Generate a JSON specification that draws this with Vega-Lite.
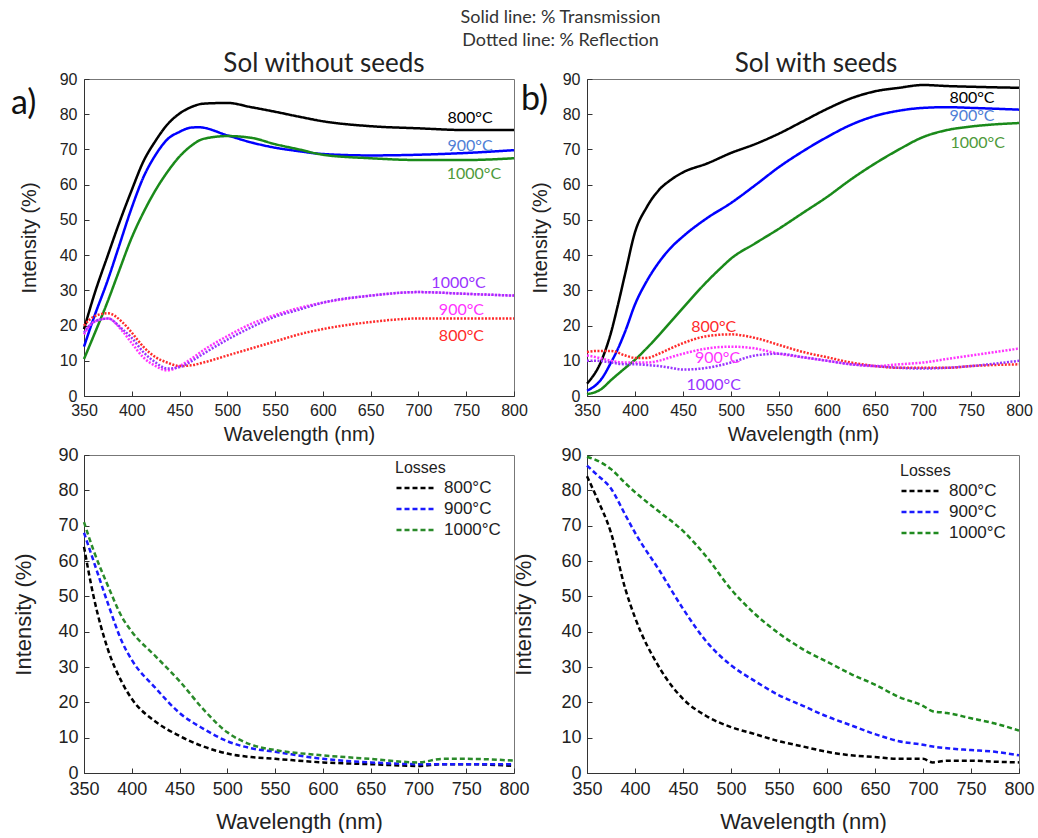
{
"$schema": "https://vega.github.io/schema/vega-lite/v6.json",
"padding": {"left": 10, "top": 8, "right": 0, "bottom": 0},
"background": "white",
"title": {"text": ["Solid line: % Transmission", "Dotted line: % Reflection"], "anchor": "middle", "font": "Lato", "fontSize": 18, "fontWeight": "normal", "color": "#333", "lineHeight": 23, "dx": 38, "offset": 1},
"config": {
  "view": {"stroke": "#777", "strokeWidth": 1},
  "line": {"interpolate": "monotone"},
  "axis": {"grid": false, "labelFont": "Liberation Sans", "titleFont": "Liberation Sans", "titleFontWeight": "normal", "labelColor": "#222", "titleColor": "#222", "domainColor": "#333", "tickColor": "#333", "tickSize": -5, "labelFlush": false, "labelOverlap": false}
},
"columns": 2,
"bounds": "flush",
"spacing": {"row": 59, "column": 73},
"resolve": {"scale": {"stroke": "independent", "fill": "independent", "strokeDash": "independent"}, "legend": {"stroke": "independent"}},
"concat": [
  {"width": 430, "height": 317,
   "title": {"text": "Sol without seeds", "font": "Lato", "fontSize": 26, "fontWeight": "normal", "color": "#222", "dx": 25, "offset": -6},
   "encoding": {
    "x": {"field": "nm", "type": "quantitative", "scale": {"domain": [350, 800], "nice": false}, "axis": {"values": [350,400,450,500,550,600,650,700,750,800], "title": "Wavelength (nm)", "labelFontSize": 16, "titleFontSize": 20, "labelPadding": 11, "titlePadding": 6}},
    "y": {"field": "pct", "type": "quantitative", "scale": {"domain": [0, 90], "nice": false}, "axis": {"values": [0,10,20,30,40,50,60,70,80,90], "title": "Intensity (%)", "labelFontSize": 16, "titleFontSize": 20, "labelPadding": 12, "titlePadding": 20}}
   },
   "layer": [
    {"data": {"name": "topA"}, "mark": {"type": "line", "strokeWidth": 2.5},
     "encoding": {
      "stroke": {"field": "series", "type": "nominal", "scale": {"domain": ["T800","T900","T1000","R800","R900","R1000"], "range": ["#000000","#0000ff","#1a8a1a","#ff2a2a","#ff33ff","#9933ff"]}, "legend": null},
      "strokeDash": {"field": "type", "type": "nominal", "scale": {"domain": ["T","R"], "range": [[1,0],[2,1.5]]}, "legend": null}
     }},
    {"data": {"name": "labelsA"}, "mark": {"type": "text", "font": "Lato", "fontSize": 16},
     "encoding": {
      "text": {"field": "label"},
      "fill": {"field": "series", "type": "nominal", "scale": {"domain": ["T800","T900","T1000","R800","R900","R1000"], "range": ["#000000","#4f7fd6","#4e9a3a","#ff2a2a","#ff33ff","#9933ff"]}, "legend": null}
     }},
    {"data": {"values": [{"label": "a)", "nm": 350, "pct": 83}]}, "mark": {"type": "text", "font": "Lato", "fontSize": 34, "align": "left", "dx": -73, "color": "#111"},
     "encoding": {"text": {"field": "label"}}}
   ]},
  {"width": 432, "height": 317,
   "title": {"text": "Sol with seeds", "font": "Lato", "fontSize": 26, "fontWeight": "normal", "color": "#222", "dx": 13, "offset": -6},
   "encoding": {
    "x": {"field": "nm", "type": "quantitative", "scale": {"domain": [350, 800], "nice": false}, "axis": {"values": [350,400,450,500,550,600,650,700,750,800], "title": "Wavelength (nm)", "labelFontSize": 16, "titleFontSize": 20, "labelPadding": 11, "titlePadding": 6}},
    "y": {"field": "pct", "type": "quantitative", "scale": {"domain": [0, 90], "nice": false}, "axis": {"values": [0,10,20,30,40,50,60,70,80,90], "title": "Intensity (%)", "labelFontSize": 16, "titleFontSize": 20, "labelPadding": 12, "titlePadding": 12}}
   },
   "layer": [
    {"data": {"name": "topB"}, "mark": {"type": "line", "strokeWidth": 2.5},
     "encoding": {
      "stroke": {"field": "series", "type": "nominal", "scale": {"domain": ["T800","T900","T1000","R800","R900","R1000"], "range": ["#000000","#0000ff","#1a8a1a","#ff2a2a","#ff33ff","#9933ff"]}, "legend": null},
      "strokeDash": {"field": "type", "type": "nominal", "scale": {"domain": ["T","R"], "range": [[1,0],[2,1.5]]}, "legend": null}
     }},
    {"data": {"name": "labelsB"}, "mark": {"type": "text", "font": "Lato", "fontSize": 16},
     "encoding": {
      "text": {"field": "label"},
      "fill": {"field": "series", "type": "nominal", "scale": {"domain": ["T800","T900","T1000","R800","R900","R1000"], "range": ["#000000","#4f7fd6","#4e9a3a","#ff2a2a","#ff33ff","#9933ff"]}, "legend": null}
     }},
    {"data": {"values": [{"label": "b)", "nm": 350, "pct": 84}]}, "mark": {"type": "text", "font": "Lato", "fontSize": 34, "align": "left", "dx": -66, "color": "#111"},
     "encoding": {"text": {"field": "label"}}}
   ]},
  {"width": 430, "height": 318,
   "data": {"name": "lossA"},
   "mark": {"type": "line", "strokeWidth": 2.5, "strokeDash": [5, 3]},
   "encoding": {
    "x": {"field": "nm", "type": "quantitative", "scale": {"domain": [350, 800], "nice": false}, "axis": {"values": [350,400,450,500,550,600,650,700,750,800], "title": "Wavelength (nm)", "labelFontSize": 18, "titleFontSize": 22, "titlePadding": 13, "labelPadding": 12}},
    "y": {"field": "pct", "type": "quantitative", "scale": {"domain": [0, 90], "nice": false}, "axis": {"values": [0,10,20,30,40,50,60,70,80,90], "title": "Intensity (%)", "labelFontSize": 18, "titleFontSize": 22, "labelPadding": 11, "titlePadding": 22}},
    "stroke": {"field": "series", "type": "nominal", "scale": {"domain": ["800°C","900°C","1000°C"], "range": ["#000000","#1a1aff","#2a8a2a"]},
      "legend": {"title": "Losses", "orient": "none", "legendX": 311, "legendY": 5, "padding": 0, "titleFont": "Liberation Sans", "titleFontSize": 16, "titleFontWeight": "normal", "titleColor": "#222", "titlePadding": 4, "labelFont": "Liberation Sans", "labelFontSize": 17, "labelColor": "#222", "labelOffset": 8, "rowPadding": 4, "clipHeight": 16, "symbolType": "stroke", "symbolSize": 1444, "symbolStrokeWidth": 2.5, "symbolDash": [5, 3]}}
   }},
  {"width": 432, "height": 318,
   "data": {"name": "lossB"},
   "mark": {"type": "line", "strokeWidth": 2.5, "strokeDash": [5, 3]},
   "encoding": {
    "x": {"field": "nm", "type": "quantitative", "scale": {"domain": [350, 800], "nice": false}, "axis": {"values": [350,400,450,500,550,600,650,700,750,800], "title": "Wavelength (nm)", "labelFontSize": 18, "titleFontSize": 22, "titlePadding": 13, "labelPadding": 12}},
    "y": {"field": "pct", "type": "quantitative", "scale": {"domain": [0, 90], "nice": false}, "axis": {"values": [0,10,20,30,40,50,60,70,80,90], "title": "Intensity (%)", "labelFontSize": 18, "titleFontSize": 22, "labelPadding": 11, "titlePadding": 25}},
    "stroke": {"field": "series", "type": "nominal", "scale": {"domain": ["800°C","900°C","1000°C"], "range": ["#000000","#1a1aff","#1f8a1f"]},
      "legend": {"title": "Losses", "orient": "none", "legendX": 313, "legendY": 8, "padding": 0, "titleFont": "Liberation Sans", "titleFontSize": 16, "titleFontWeight": "normal", "titleColor": "#222", "titlePadding": 4, "labelFont": "Liberation Sans", "labelFontSize": 17, "labelColor": "#222", "labelOffset": 8, "rowPadding": 4, "clipHeight": 16, "symbolType": "stroke", "symbolSize": 1444, "symbolStrokeWidth": 2.5, "symbolDash": [5, 3]}}
   }}
],
"datasets": {
 "labelsA": [
  {"label": "800°C", "series": "T800", "nm": 754, "pct": 79},
  {"label": "900°C", "series": "T900", "nm": 754, "pct": 71},
  {"label": "1000°C", "series": "T1000", "nm": 758, "pct": 63},
  {"label": "1000°C", "series": "R1000", "nm": 742, "pct": 32},
  {"label": "900°C", "series": "R900", "nm": 745, "pct": 24.4},
  {"label": "800°C", "series": "R800", "nm": 745, "pct": 17}
 ],
 "labelsB": [
  {"label": "800°C", "series": "T800", "nm": 751, "pct": 84.6},
  {"label": "900°C", "series": "T900", "nm": 751, "pct": 79.5},
  {"label": "1000°C", "series": "T1000", "nm": 757, "pct": 71.8},
  {"label": "800°C", "series": "R800", "nm": 482, "pct": 19.6},
  {"label": "900°C", "series": "R900", "nm": 486, "pct": 10.8},
  {"label": "1000°C", "series": "R1000", "nm": 482, "pct": 3.1}
 ],
 "topA": [
  {"series":"T800","type":"T","nm":350,"pct":19},{"series":"T800","type":"T","nm":361,"pct":29},{"series":"T800","type":"T","nm":375,"pct":40},{"series":"T800","type":"T","nm":386,"pct":48.5},{"series":"T800","type":"T","nm":400,"pct":58.5},{"series":"T800","type":"T","nm":412,"pct":66.5},{"series":"T800","type":"T","nm":425,"pct":72.5},{"series":"T800","type":"T","nm":437,"pct":77},{"series":"T800","type":"T","nm":450,"pct":80.2},{"series":"T800","type":"T","nm":462,"pct":82},{"series":"T800","type":"T","nm":475,"pct":83},{"series":"T800","type":"T","nm":500,"pct":83.2},{"series":"T800","type":"T","nm":525,"pct":82},{"series":"T800","type":"T","nm":550,"pct":80.7},{"series":"T800","type":"T","nm":575,"pct":79.3},{"series":"T800","type":"T","nm":600,"pct":78},{"series":"T800","type":"T","nm":650,"pct":76.6},{"series":"T800","type":"T","nm":700,"pct":76},{"series":"T800","type":"T","nm":750,"pct":75.5},{"series":"T800","type":"T","nm":800,"pct":75.5},
  {"series":"T900","type":"T","nm":350,"pct":14},{"series":"T900","type":"T","nm":360,"pct":22},{"series":"T900","type":"T","nm":375,"pct":33},{"series":"T900","type":"T","nm":386,"pct":42},{"series":"T900","type":"T","nm":400,"pct":53.5},{"series":"T900","type":"T","nm":412,"pct":62},{"series":"T900","type":"T","nm":425,"pct":68.5},{"series":"T900","type":"T","nm":437,"pct":72.8},{"series":"T900","type":"T","nm":450,"pct":75},{"series":"T900","type":"T","nm":462,"pct":76.2},{"series":"T900","type":"T","nm":470,"pct":76.3},{"series":"T900","type":"T","nm":500,"pct":74},{"series":"T900","type":"T","nm":525,"pct":72},{"series":"T900","type":"T","nm":550,"pct":70.5},{"series":"T900","type":"T","nm":575,"pct":69.5},{"series":"T900","type":"T","nm":600,"pct":68.7},{"series":"T900","type":"T","nm":650,"pct":68.3},{"series":"T900","type":"T","nm":700,"pct":68.5},{"series":"T900","type":"T","nm":750,"pct":69},{"series":"T900","type":"T","nm":800,"pct":69.8},
  {"series":"T1000","type":"T","nm":350,"pct":10.5},{"series":"T1000","type":"T","nm":360,"pct":17},{"series":"T1000","type":"T","nm":375,"pct":27},{"series":"T1000","type":"T","nm":386,"pct":35},{"series":"T1000","type":"T","nm":400,"pct":45},{"series":"T1000","type":"T","nm":412,"pct":52},{"series":"T1000","type":"T","nm":425,"pct":58.5},{"series":"T1000","type":"T","nm":437,"pct":63.5},{"series":"T1000","type":"T","nm":450,"pct":68},{"series":"T1000","type":"T","nm":462,"pct":71},{"series":"T1000","type":"T","nm":475,"pct":73},{"series":"T1000","type":"T","nm":500,"pct":73.8},{"series":"T1000","type":"T","nm":525,"pct":73.3},{"series":"T1000","type":"T","nm":550,"pct":71.5},{"series":"T1000","type":"T","nm":575,"pct":70},{"series":"T1000","type":"T","nm":600,"pct":68.5},{"series":"T1000","type":"T","nm":650,"pct":67.5},{"series":"T1000","type":"T","nm":700,"pct":67},{"series":"T1000","type":"T","nm":750,"pct":67},{"series":"T1000","type":"T","nm":800,"pct":67.5},
  {"series":"R800","type":"R","nm":350,"pct":20},{"series":"R800","type":"R","nm":360,"pct":22.5},{"series":"R800","type":"R","nm":375,"pct":23.5},{"series":"R800","type":"R","nm":390,"pct":21},{"series":"R800","type":"R","nm":400,"pct":18},{"series":"R800","type":"R","nm":412,"pct":14},{"series":"R800","type":"R","nm":425,"pct":11},{"series":"R800","type":"R","nm":437,"pct":9.5},{"series":"R800","type":"R","nm":450,"pct":8.5},{"series":"R800","type":"R","nm":462,"pct":8.7},{"series":"R800","type":"R","nm":475,"pct":9.5},{"series":"R800","type":"R","nm":500,"pct":11.5},{"series":"R800","type":"R","nm":525,"pct":13.5},{"series":"R800","type":"R","nm":550,"pct":15.5},{"series":"R800","type":"R","nm":575,"pct":17.5},{"series":"R800","type":"R","nm":600,"pct":19},{"series":"R800","type":"R","nm":650,"pct":21},{"series":"R800","type":"R","nm":700,"pct":22},{"series":"R800","type":"R","nm":750,"pct":22},{"series":"R800","type":"R","nm":800,"pct":22},
  {"series":"R900","type":"R","nm":350,"pct":17.5},{"series":"R900","type":"R","nm":360,"pct":21},{"series":"R900","type":"R","nm":375,"pct":22},{"series":"R900","type":"R","nm":390,"pct":18.5},{"series":"R900","type":"R","nm":400,"pct":15},{"series":"R900","type":"R","nm":412,"pct":11},{"series":"R900","type":"R","nm":425,"pct":8.5},{"series":"R900","type":"R","nm":437,"pct":7.3},{"series":"R900","type":"R","nm":450,"pct":8.5},{"series":"R900","type":"R","nm":462,"pct":10.5},{"series":"R900","type":"R","nm":475,"pct":13},{"series":"R900","type":"R","nm":500,"pct":17},{"series":"R900","type":"R","nm":525,"pct":20.5},{"series":"R900","type":"R","nm":550,"pct":23},{"series":"R900","type":"R","nm":575,"pct":25},{"series":"R900","type":"R","nm":600,"pct":26.5},{"series":"R900","type":"R","nm":650,"pct":28.5},{"series":"R900","type":"R","nm":700,"pct":29.5},{"series":"R900","type":"R","nm":750,"pct":29},{"series":"R900","type":"R","nm":800,"pct":28.5},
  {"series":"R1000","type":"R","nm":350,"pct":18},{"series":"R1000","type":"R","nm":360,"pct":21},{"series":"R1000","type":"R","nm":375,"pct":22},{"series":"R1000","type":"R","nm":390,"pct":19},{"series":"R1000","type":"R","nm":400,"pct":16.5},{"series":"R1000","type":"R","nm":412,"pct":12.5},{"series":"R1000","type":"R","nm":425,"pct":9.5},{"series":"R1000","type":"R","nm":437,"pct":7.8},{"series":"R1000","type":"R","nm":450,"pct":8.2},{"series":"R1000","type":"R","nm":462,"pct":9.8},{"series":"R1000","type":"R","nm":475,"pct":12},{"series":"R1000","type":"R","nm":500,"pct":16},{"series":"R1000","type":"R","nm":525,"pct":19.5},{"series":"R1000","type":"R","nm":550,"pct":22.5},{"series":"R1000","type":"R","nm":575,"pct":24.5},{"series":"R1000","type":"R","nm":600,"pct":26.5},{"series":"R1000","type":"R","nm":650,"pct":28.5},{"series":"R1000","type":"R","nm":700,"pct":29.5},{"series":"R1000","type":"R","nm":750,"pct":29},{"series":"R1000","type":"R","nm":800,"pct":28.5}
 ],
 "topB": [
  {"series":"T800","type":"T","nm":350,"pct":3.5},{"series":"T800","type":"T","nm":365,"pct":10},{"series":"T800","type":"T","nm":375,"pct":18},{"series":"T800","type":"T","nm":382,"pct":25.6},{"series":"T800","type":"T","nm":390,"pct":35},{"series":"T800","type":"T","nm":400,"pct":46.5},{"series":"T800","type":"T","nm":412,"pct":53.5},{"series":"T800","type":"T","nm":425,"pct":58.5},{"series":"T800","type":"T","nm":437,"pct":61.3},{"series":"T800","type":"T","nm":450,"pct":63.5},{"series":"T800","type":"T","nm":475,"pct":66},{"series":"T800","type":"T","nm":500,"pct":69},{"series":"T800","type":"T","nm":525,"pct":71.5},{"series":"T800","type":"T","nm":550,"pct":74.5},{"series":"T800","type":"T","nm":575,"pct":78},{"series":"T800","type":"T","nm":600,"pct":81.5},{"series":"T800","type":"T","nm":625,"pct":84.5},{"series":"T800","type":"T","nm":650,"pct":86.5},{"series":"T800","type":"T","nm":675,"pct":87.5},{"series":"T800","type":"T","nm":700,"pct":88.3},{"series":"T800","type":"T","nm":725,"pct":88},{"series":"T800","type":"T","nm":750,"pct":87.8},{"series":"T800","type":"T","nm":800,"pct":87.5},
  {"series":"T900","type":"T","nm":350,"pct":1.5},{"series":"T900","type":"T","nm":365,"pct":4.8},{"series":"T900","type":"T","nm":375,"pct":9.5},{"series":"T900","type":"T","nm":382,"pct":13.3},{"series":"T900","type":"T","nm":390,"pct":18.5},{"series":"T900","type":"T","nm":400,"pct":26},{"series":"T900","type":"T","nm":412,"pct":32.5},{"series":"T900","type":"T","nm":425,"pct":38},{"series":"T900","type":"T","nm":437,"pct":42},{"series":"T900","type":"T","nm":450,"pct":45.3},{"series":"T900","type":"T","nm":475,"pct":50.5},{"series":"T900","type":"T","nm":500,"pct":54.8},{"series":"T900","type":"T","nm":525,"pct":59.8},{"series":"T900","type":"T","nm":550,"pct":65},{"series":"T900","type":"T","nm":575,"pct":69.5},{"series":"T900","type":"T","nm":600,"pct":73.5},{"series":"T900","type":"T","nm":625,"pct":77},{"series":"T900","type":"T","nm":650,"pct":79.5},{"series":"T900","type":"T","nm":675,"pct":81},{"series":"T900","type":"T","nm":700,"pct":81.8},{"series":"T900","type":"T","nm":725,"pct":82},{"series":"T900","type":"T","nm":750,"pct":81.8},{"series":"T900","type":"T","nm":800,"pct":81.3},
  {"series":"T1000","type":"T","nm":350,"pct":0.5},{"series":"T1000","type":"T","nm":365,"pct":2},{"series":"T1000","type":"T","nm":375,"pct":4.5},{"series":"T1000","type":"T","nm":390,"pct":8},{"series":"T1000","type":"T","nm":400,"pct":10.3},{"series":"T1000","type":"T","nm":412,"pct":13.5},{"series":"T1000","type":"T","nm":425,"pct":17.3},{"series":"T1000","type":"T","nm":437,"pct":21},{"series":"T1000","type":"T","nm":450,"pct":25},{"series":"T1000","type":"T","nm":475,"pct":32.5},{"series":"T1000","type":"T","nm":490,"pct":36.5},{"series":"T1000","type":"T","nm":500,"pct":39},{"series":"T1000","type":"T","nm":525,"pct":43.3},{"series":"T1000","type":"T","nm":550,"pct":47.5},{"series":"T1000","type":"T","nm":575,"pct":52},{"series":"T1000","type":"T","nm":600,"pct":56.5},{"series":"T1000","type":"T","nm":625,"pct":61.5},{"series":"T1000","type":"T","nm":650,"pct":66},{"series":"T1000","type":"T","nm":675,"pct":70},{"series":"T1000","type":"T","nm":700,"pct":73.5},{"series":"T1000","type":"T","nm":725,"pct":75.5},{"series":"T1000","type":"T","nm":750,"pct":76.5},{"series":"T1000","type":"T","nm":800,"pct":77.5},
  {"series":"R800","type":"R","nm":350,"pct":12.5},{"series":"R800","type":"R","nm":360,"pct":12.8},{"series":"R800","type":"R","nm":375,"pct":12.8},{"series":"R800","type":"R","nm":390,"pct":11.5},{"series":"R800","type":"R","nm":400,"pct":10.8},{"series":"R800","type":"R","nm":412,"pct":10.8},{"series":"R800","type":"R","nm":425,"pct":12},{"series":"R800","type":"R","nm":437,"pct":13.5},{"series":"R800","type":"R","nm":450,"pct":15},{"series":"R800","type":"R","nm":475,"pct":17},{"series":"R800","type":"R","nm":500,"pct":17.5},{"series":"R800","type":"R","nm":525,"pct":16.5},{"series":"R800","type":"R","nm":550,"pct":14.5},{"series":"R800","type":"R","nm":575,"pct":12.5},{"series":"R800","type":"R","nm":600,"pct":11},{"series":"R800","type":"R","nm":625,"pct":9.5},{"series":"R800","type":"R","nm":650,"pct":8.5},{"series":"R800","type":"R","nm":675,"pct":8},{"series":"R800","type":"R","nm":700,"pct":8},{"series":"R800","type":"R","nm":725,"pct":8},{"series":"R800","type":"R","nm":750,"pct":8.5},{"series":"R800","type":"R","nm":800,"pct":9},
  {"series":"R900","type":"R","nm":350,"pct":11.5},{"series":"R900","type":"R","nm":360,"pct":11},{"series":"R900","type":"R","nm":375,"pct":10},{"series":"R900","type":"R","nm":390,"pct":9.5},{"series":"R900","type":"R","nm":400,"pct":9.5},{"series":"R900","type":"R","nm":412,"pct":9.5},{"series":"R900","type":"R","nm":425,"pct":10},{"series":"R900","type":"R","nm":437,"pct":11},{"series":"R900","type":"R","nm":450,"pct":12},{"series":"R900","type":"R","nm":475,"pct":13.5},{"series":"R900","type":"R","nm":500,"pct":14},{"series":"R900","type":"R","nm":525,"pct":13.5},{"series":"R900","type":"R","nm":550,"pct":12},{"series":"R900","type":"R","nm":575,"pct":11},{"series":"R900","type":"R","nm":600,"pct":10},{"series":"R900","type":"R","nm":625,"pct":9},{"series":"R900","type":"R","nm":650,"pct":8.5},{"series":"R900","type":"R","nm":675,"pct":9},{"series":"R900","type":"R","nm":700,"pct":9.5},{"series":"R900","type":"R","nm":725,"pct":10.5},{"series":"R900","type":"R","nm":750,"pct":11.5},{"series":"R900","type":"R","nm":800,"pct":13.5},
  {"series":"R1000","type":"R","nm":350,"pct":10},{"series":"R1000","type":"R","nm":360,"pct":10},{"series":"R1000","type":"R","nm":375,"pct":9.5},{"series":"R1000","type":"R","nm":390,"pct":9},{"series":"R1000","type":"R","nm":400,"pct":9},{"series":"R1000","type":"R","nm":412,"pct":8.8},{"series":"R1000","type":"R","nm":425,"pct":8.5},{"series":"R1000","type":"R","nm":437,"pct":8},{"series":"R1000","type":"R","nm":450,"pct":7.5},{"series":"R1000","type":"R","nm":475,"pct":8},{"series":"R1000","type":"R","nm":500,"pct":9.5},{"series":"R1000","type":"R","nm":525,"pct":11.5},{"series":"R1000","type":"R","nm":550,"pct":12},{"series":"R1000","type":"R","nm":575,"pct":11},{"series":"R1000","type":"R","nm":600,"pct":10},{"series":"R1000","type":"R","nm":625,"pct":9},{"series":"R1000","type":"R","nm":650,"pct":8.5},{"series":"R1000","type":"R","nm":675,"pct":8},{"series":"R1000","type":"R","nm":700,"pct":7.8},{"series":"R1000","type":"R","nm":725,"pct":8},{"series":"R1000","type":"R","nm":750,"pct":8.5},{"series":"R1000","type":"R","nm":800,"pct":10}
 ],
 "lossA": [
  {"series":"800°C","nm":350,"pct":64},{"series":"800°C","nm":360,"pct":50},{"series":"800°C","nm":375,"pct":35},{"series":"800°C","nm":390,"pct":25.5},{"series":"800°C","nm":400,"pct":21},{"series":"800°C","nm":425,"pct":14.5},{"series":"800°C","nm":450,"pct":10.5},{"series":"800°C","nm":475,"pct":7.5},{"series":"800°C","nm":500,"pct":5.5},{"series":"800°C","nm":525,"pct":4.5},{"series":"800°C","nm":550,"pct":4},{"series":"800°C","nm":600,"pct":3},{"series":"800°C","nm":650,"pct":2.5},{"series":"800°C","nm":700,"pct":2},{"series":"800°C","nm":725,"pct":2.5},{"series":"800°C","nm":750,"pct":2.5},{"series":"800°C","nm":800,"pct":2},
  {"series":"900°C","nm":350,"pct":68},{"series":"900°C","nm":360,"pct":60},{"series":"900°C","nm":375,"pct":48},{"series":"900°C","nm":390,"pct":37},{"series":"900°C","nm":400,"pct":32},{"series":"900°C","nm":425,"pct":24},{"series":"900°C","nm":450,"pct":17},{"series":"900°C","nm":475,"pct":12.5},{"series":"900°C","nm":500,"pct":9},{"series":"900°C","nm":525,"pct":7},{"series":"900°C","nm":550,"pct":6},{"series":"900°C","nm":600,"pct":4},{"series":"900°C","nm":650,"pct":3},{"series":"900°C","nm":700,"pct":2.5},{"series":"900°C","nm":725,"pct":2.5},{"series":"900°C","nm":750,"pct":2.5},{"series":"900°C","nm":800,"pct":2.5},
  {"series":"1000°C","nm":350,"pct":71},{"series":"1000°C","nm":360,"pct":63},{"series":"1000°C","nm":375,"pct":53},{"series":"1000°C","nm":390,"pct":44},{"series":"1000°C","nm":400,"pct":40},{"series":"1000°C","nm":425,"pct":33},{"series":"1000°C","nm":450,"pct":26},{"series":"1000°C","nm":475,"pct":18},{"series":"1000°C","nm":500,"pct":11.5},{"series":"1000°C","nm":525,"pct":8},{"series":"1000°C","nm":550,"pct":6.5},{"series":"1000°C","nm":600,"pct":5},{"series":"1000°C","nm":650,"pct":4},{"series":"1000°C","nm":700,"pct":3},{"series":"1000°C","nm":725,"pct":4},{"series":"1000°C","nm":750,"pct":4},{"series":"1000°C","nm":800,"pct":3.5}
 ],
 "lossB": [
  {"series":"800°C","nm":350,"pct":84},{"series":"800°C","nm":360,"pct":78},{"series":"800°C","nm":375,"pct":68},{"series":"800°C","nm":390,"pct":52},{"series":"800°C","nm":400,"pct":44},{"series":"800°C","nm":425,"pct":30},{"series":"800°C","nm":450,"pct":21},{"series":"800°C","nm":475,"pct":16},{"series":"800°C","nm":500,"pct":13},{"series":"800°C","nm":525,"pct":11},{"series":"800°C","nm":550,"pct":9},{"series":"800°C","nm":575,"pct":7.5},{"series":"800°C","nm":600,"pct":6},{"series":"800°C","nm":625,"pct":5},{"series":"800°C","nm":650,"pct":4.5},{"series":"800°C","nm":675,"pct":4},{"series":"800°C","nm":700,"pct":4},{"series":"800°C","nm":710,"pct":3},{"series":"800°C","nm":725,"pct":3.5},{"series":"800°C","nm":750,"pct":3.5},{"series":"800°C","nm":775,"pct":3.2},{"series":"800°C","nm":800,"pct":3},
  {"series":"900°C","nm":350,"pct":87},{"series":"900°C","nm":360,"pct":84.5},{"series":"900°C","nm":375,"pct":80.5},{"series":"900°C","nm":390,"pct":73},{"series":"900°C","nm":400,"pct":68},{"series":"900°C","nm":425,"pct":57.5},{"series":"900°C","nm":450,"pct":46.5},{"series":"900°C","nm":475,"pct":37},{"series":"900°C","nm":500,"pct":30.5},{"series":"900°C","nm":525,"pct":26},{"series":"900°C","nm":550,"pct":22},{"series":"900°C","nm":575,"pct":19},{"series":"900°C","nm":600,"pct":16},{"series":"900°C","nm":625,"pct":13.5},{"series":"900°C","nm":650,"pct":11},{"series":"900°C","nm":675,"pct":9},{"series":"900°C","nm":700,"pct":8},{"series":"900°C","nm":710,"pct":7.5},{"series":"900°C","nm":725,"pct":7},{"series":"900°C","nm":750,"pct":6.5},{"series":"900°C","nm":775,"pct":6},{"series":"900°C","nm":800,"pct":5},
  {"series":"1000°C","nm":350,"pct":89.5},{"series":"1000°C","nm":360,"pct":88.5},{"series":"1000°C","nm":375,"pct":86},{"series":"1000°C","nm":390,"pct":82},{"series":"1000°C","nm":400,"pct":79.5},{"series":"1000°C","nm":425,"pct":74},{"series":"1000°C","nm":450,"pct":68.5},{"series":"1000°C","nm":475,"pct":61},{"series":"1000°C","nm":500,"pct":52},{"series":"1000°C","nm":525,"pct":45},{"series":"1000°C","nm":550,"pct":39.5},{"series":"1000°C","nm":575,"pct":35},{"series":"1000°C","nm":600,"pct":31.5},{"series":"1000°C","nm":625,"pct":28},{"series":"1000°C","nm":650,"pct":25},{"series":"1000°C","nm":675,"pct":21.5},{"series":"1000°C","nm":700,"pct":19},{"series":"1000°C","nm":710,"pct":17.5},{"series":"1000°C","nm":725,"pct":17},{"series":"1000°C","nm":750,"pct":15.5},{"series":"1000°C","nm":775,"pct":14},{"series":"1000°C","nm":800,"pct":12}
 ]
}
}
